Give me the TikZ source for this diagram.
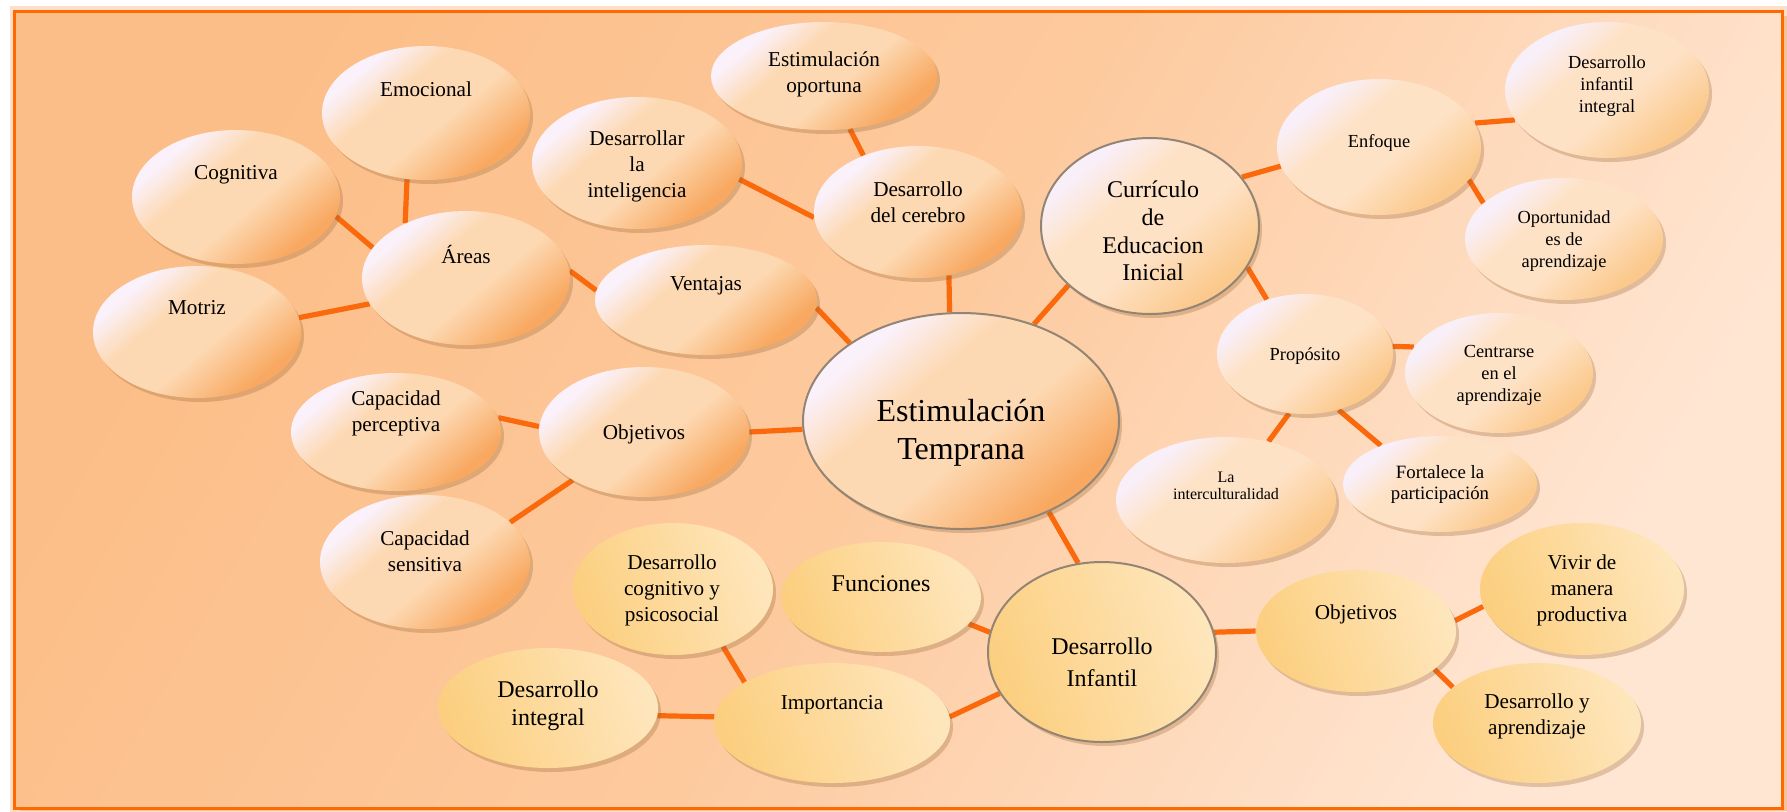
\documentclass[tikz,border=0pt]{standalone}
\usepackage{fontspec}
\setmainfont{Liberation Serif}
\usetikzlibrary{shapes.geometric, shadows, backgrounds}

\definecolor{bgtop}{HTML}{FCBE88}
\definecolor{bgbot}{HTML}{FFE6D3}
\definecolor{framec}{HTML}{FF6A00}
\definecolor{linkc}{HTML}{FA6A0C}
\definecolor{peachA}{HTML}{FBF1FA}
\definecolor{peachB}{HTML}{FDD9B3}
\definecolor{peachC}{HTML}{F8A860}
\definecolor{lightA}{HTML}{F9EFF8}
\definecolor{lightB}{HTML}{FEE2C6}
\definecolor{lightC}{HTML}{FBC98C}
\definecolor{yelA}{HTML}{FCCF80}
\definecolor{yelB}{HTML}{FEE6BC}
\definecolor{rimc}{HTML}{948474}

\pgfdeclareverticalshading{peachsh}{100bp}{color(0bp)=(peachC); color(27bp)=(peachC);
  color(45bp)=(peachB); color(60bp)=(peachB); color(72bp)=(peachA); color(100bp)=(peachA)}
\pgfdeclareverticalshading{lightsh}{100bp}{color(0bp)=(lightC); color(27bp)=(lightC);
  color(45bp)=(lightB); color(60bp)=(lightB); color(72bp)=(lightA); color(100bp)=(lightA)}

\tikzset{
  bubble/.style={ellipse, inner sep=0pt,
    drop shadow={shadow xshift=1.5pt, shadow yshift=-2pt, opacity=.3, fill=brown!80!black}},
  bubpeach/.style={bubble, shade, shading=peachsh, shading angle=40},
  bublight/.style={bubble, shade, shading=lightsh, shading angle=40},
  bubyel/.style={bubble, left color=yelA, right color=yelB, shading angle=110},
  rim/.style={draw=rimc, line width=1pt},
  dims/.style 2 args={minimum width=#1pt, minimum height=#2pt},
  lbl/.style={align=center, inner sep=0pt, font=\fontsize{10.6}{13}\selectfont},
  lblsmall/.style={lbl, font=\fontsize{9.2}{11}\selectfont},
  link/.style={draw=linkc, line width=2.6pt}
}

\begin{document}
\begin{tikzpicture}[x=0.5pt, y=-0.5pt]
\useasboundingbox (0,0) rectangle (1787,811);

% page and frame
\begin{pgfonlayer}{background}
  \fill[white] (0,0) rectangle (1787,811);
  \fill[brown!60!orange, opacity=.55] (20,16) rectangle (1787,811);
  \draw[framec!35, line width=5pt, opacity=.6] (14.5,11) rectangle (1782,808);
  \shade[top color=bgtop, bottom color=bgbot, middle color=bgtop!70!bgbot, shading angle=60]
    (14.5,11) rectangle (1782,808);
  \draw[framec, line width=1.5pt] (14.5,11) rectangle (1782,808);
\end{pgfonlayer}

% left branch
\node[bubpeach, dims={104}{67}] (emo) at (426,113) {};
\node[bubpeach, dims={104}{67}] (cog) at (236,197) {};
\node[bubpeach, dims={104}{67}] (areas) at (466,278) {};
\node[bubpeach, dims={104}{66}] (motriz) at (197,332) {};
\node[bubpeach, dims={113}{54}] (oport) at (824,76) {};
\node[bubpeach, dims={105}{66}] (intel) at (637,163) {};
\node[bubpeach, dims={104}{66}] (cerebro) at (918,212) {};
\node[bubpeach, dims={111}{55}] (ventajas) at (706,300) {};
\node[bubpeach, dims={105}{59}] (percep) at (396,432) {};
\node[bubpeach, dims={105}{65}] (objL) at (644,432) {};
\node[bubpeach, dims={105}{67}] (sensit) at (425,562) {};

% centre
\node[bubpeach, rim, dims={158}{108}] (temprana) at (961,421) {};

% right branch
\node[bublight, rim, dims={109}{88}] (curric) at (1150,226) {};
\node[bublight, dims={102}{68}] (enfoque) at (1379,147) {};
\node[bublight, dims={102}{68}] (dii) at (1607,90) {};
\node[bublight, dims={99}{61}] (oportap) at (1564,239) {};
\node[bublight, dims={88}{60}] (proposito) at (1305,354) {};
\node[bublight, dims={94}{60}] (centrarse) at (1499,373) {};
\node[bublight, dims={110}{63}] (intercult) at (1226,500) {};
\node[bublight, dims={97}{48}] (fortalece) at (1440,484) {};

% lower branch
\node[bubyel, rim, dims={114}{90}] (infantil) at (1102,652) {};
\node[bubyel, dims={100}{66}] (cogpsi) at (673,589) {};
\node[bubyel, dims={100}{55}] (funciones) at (881,597) {};
\node[bubyel, dims={118}{60}] (importancia) at (832,723) {};
\node[bubyel, dims={110}{60}] (integral) at (548,708) {};
\node[bubyel, dims={100}{61}] (objR) at (1356,631) {};
\node[bubyel, dims={102}{66}] (vivir) at (1582,589) {};
\node[bubyel, dims={104}{60}] (dya) at (1537,723) {};

% texts
\node[lbl] (emo-t) at (426,89) {Emocional};
\node[lbl] (cog-t) at (236,175) {Cognitiva};
\node[lbl] (areas-t) at (466,254) {Áreas};
\node[lbl] (motriz-t) at (197,308) {Motriz};
\node[lbl] (oport-t) at (824,74) {Estimulación\\oportuna};
\node[lbl] (intel-t) at (637,166) {Desarrollar\\la\\inteligencia};
\node[lbl] (cerebro-t) at (918,202) {Desarrollo\\del cerebro};
\node[lbl] (ventajas-t) at (706,286) {Ventajas};
\node[lbl] (percep-t) at (396,413) {Capacidad\\perceptiva};
\node[lbl] (objL-t) at (644,434) {Objetivos};
\node[lbl] (sensit-t) at (425,551) {Capacidad\\sensitiva};
\node[lbl, font=\fontsize{16}{19}\selectfont] (temprana-t) at (961,433) {Estimulación\\Temprana};
\node[lbl, font=\fontsize{12}{13.8}\selectfont] (curric-t) at (1153,231) {Currículo\\de\\Educacion\\Inicial};
\node[lblsmall] (enfoque-t) at (1379,143) {Enfoque};
\node[lblsmall] (dii-t) at (1607,86) {Desarrollo\\infantil\\integral};
\node[lblsmall] (oportap-t) at (1564,241) {Oportunidad\\es de\\aprendizaje};
\node[lblsmall] (proposito-t) at (1305,356) {Propósito};
\node[lblsmall] (centrarse-t) at (1499,375) {Centrarse\\en el\\aprendizaje};
\node[lbl, font=\fontsize{8}{8.5}\selectfont] (intercult-t) at (1226,486) {La\\interculturalidad};
\node[lbl, font=\fontsize{9.4}{10.5}\selectfont] (fortalece-t) at (1440,484) {Fortalece la\\participación};
\node[lbl, font=\fontsize{12}{16}\selectfont] (infantil-t) at (1102,662) {Desarrollo\\Infantil};
\node[lbl] (cogpsi-t) at (672,590) {Desarrollo\\cognitivo y\\psicosocial};
\node[lbl, font=\fontsize{12}{14}\selectfont] (funciones-t) at (881,584) {Funciones};
\node[lbl] (importancia-t) at (832,705) {Importancia};
\node[lbl, font=\fontsize{12}{14}\selectfont] (integral-t) at (548,706) {Desarrollo\\integral};
\node[lbl] (objR-t) at (1356,614) {Objetivos};
\node[lbl] (vivir-t) at (1582,590) {Vivir de\\manera\\productiva};
\node[lbl] (dya-t) at (1537,716) {Desarrollo y\\aprendizaje};

% connectors
\begin{pgfonlayer}{background}
  \draw[link] (emo.254) -- (areas.138);
  \draw[link] (cog.-11) -- (areas.162);
  \draw[link] (motriz.8) -- (areas.195);
  \draw[link] (areas.4) -- (ventajas.175);
  \draw[link] (ventajas.-4) -- (temprana.145);
  \draw[link] (oport.-64) -- (cerebro.134);
  \draw[link] (intel.-9) -- (cerebro.183);
  \draw[link] (cerebro.-64) -- (temprana.96);
  \draw[link] (curric.216) -- (temprana.53);
  \draw[link] (objL.0) -- (temprana.183);
  \draw[link] (percep.8) -- (objL.177);
  \draw[link] (sensit.25) -- (objL.214);
  \draw[link] (temprana.-46) -- (infantil.105);
  \draw[link] (funciones.-17) -- (infantil.170);
  \draw[link] (importancia.3) -- (infantil.202);
  \draw[link] (cogpsi.-49) -- (importancia.155);
  \draw[link] (integral.-4) -- (importancia.177);
  \draw[link] (infantil.10) -- (objR.180);
  \draw[link] (objR.6) -- (vivir.190);
  \draw[link] (objR.-26) -- (dya.157);
  \draw[link] (curric.28) -- (enfoque.191);
  \draw[link] (enfoque.14) -- (dii.198);
  \draw[link] (enfoque.-20) -- (oportap.156);
  \draw[link] (curric.-23) -- (proposito.125);
  \draw[link] (proposito.5) -- (centrarse.163);
  \draw[link] (proposito.255) -- (intercult.54);
  \draw[link] (proposito.-59) -- (fortalece.147);
\end{pgfonlayer}
\end{tikzpicture}
\end{document}
